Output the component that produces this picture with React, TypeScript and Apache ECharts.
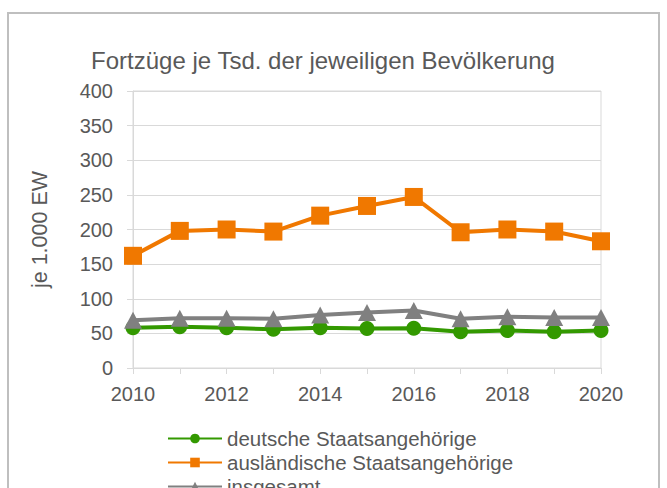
import React, { useEffect, useRef } from "react";
import * as echarts from "echarts";

const years = ["2010", "2011", "2012", "2013", "2014", "2015", "2016", "2017", "2018", "2019", "2020"];
const deutsche = [58, 59.5, 58, 56, 58, 57, 57.5, 52.5, 54, 52.5, 54];
const auslaendische = [162, 198, 200, 197, 220, 234, 247, 196, 200, 197, 183];
const insgesamt = [69, 72, 72, 71, 76.5, 80, 83, 71, 74, 73, 73];
const seriesNames = ["deutsche Staatsangehörige", "ausländische Staatsangehörige", "insgesamt"];
const titleText = "Fortzüge je Tsd. der jeweiligen Bevölkerung";
const yAxisName = "je 1.000 EW";

const FONT = "'Liberation Sans', Arial, sans-serif";
const TEXT = "#595959";

export default function App() {
  const ref = useRef<HTMLDivElement>(null);
  useEffect(() => {
    if (!ref.current) return;
    const chart = echarts.init(ref.current, undefined, { renderer: "svg" });
    const legends = seriesNames.map((n, i) => ({
      orient: "horizontal",
      left: 167,
      top: 428 + i * 24,
      padding: 0,
      itemWidth: 54,
      itemHeight: 12,
      itemGap: 4,
      textStyle: { color: TEXT, fontSize: 20.5, fontFamily: FONT },
      data: [n],
    }));
    chart.setOption({
      animation: false,
      backgroundColor: "#ffffff",
      textStyle: { fontFamily: FONT },
      graphic: [
        {
          type: "rect",
          shape: { x: 8, y: 13, width: 651, height: 500 },
          style: { fill: "none", stroke: "#bfbfbf", lineWidth: 2 },
          silent: true,
        },
        {
          type: "text",
          x: 323,
          y: 60,
          style: {
            text: titleText,
            fill: TEXT,
            font: `24px ${FONT}`,
            textAlign: "center",
            textVerticalAlign: "middle",
          },
        },
      ],
      grid: {
        left: 133,
        right: 66,
        top: 91,
        bottom: 120,
        show: true,
        borderColor: "#d9d9d9",
        borderWidth: 1,
      },
      legend: legends,
      xAxis: {
        type: "category",
        data: years,
        boundaryGap: false,
        axisLine: { lineStyle: { color: "#d9d9d9", width: 1 } },
        axisTick: { show: true, interval: 0, length: 6, lineStyle: { color: "#d9d9d9" } },
        axisLabel: { interval: 1, color: TEXT, fontSize: 20, fontFamily: FONT, margin: 16 },
        splitLine: { show: false },
      },
      yAxis: {
        type: "value",
        min: 0,
        max: 400,
        interval: 50,
        name: yAxisName,
        nameLocation: "middle",
        nameRotate: 90,
        nameGap: 82,
        nameTextStyle: { color: TEXT, fontSize: 21.5, fontFamily: FONT },
        axisLine: { show: true, lineStyle: { color: "#d9d9d9", width: 1 } },
        axisTick: { show: true, length: 6, lineStyle: { color: "#d9d9d9" } },
        axisLabel: { color: TEXT, fontSize: 20, fontFamily: FONT, margin: 20 },
        splitLine: { lineStyle: { color: "#d9d9d9", width: 1 } },
      },
      series: [
        {
          name: seriesNames[0],
          type: "line",
          data: deutsche,
          symbol: "circle",
          symbolSize: 15,
          itemStyle: { color: "#339900" },
          lineStyle: { color: "#339900", width: 4 },
          z: 2,
        },
        {
          name: seriesNames[1],
          type: "line",
          data: auslaendische,
          symbol: "rect",
          symbolSize: 18,
          itemStyle: { color: "#f07800" },
          lineStyle: { color: "#f07800", width: 4 },
          z: 3,
        },
        {
          name: seriesNames[2],
          type: "line",
          data: insgesamt,
          symbol: "triangle",
          symbolSize: [18, 17],
          itemStyle: { color: "#808080" },
          lineStyle: { color: "#808080", width: 4 },
          z: 4,
        },
      ],
    });
    return () => chart.dispose();
  }, []);
  return (
    <div
      ref={ref}
      style={{ position: "fixed", left: 0, top: 0, width: 667, height: 488 }}
    />
  );
}
